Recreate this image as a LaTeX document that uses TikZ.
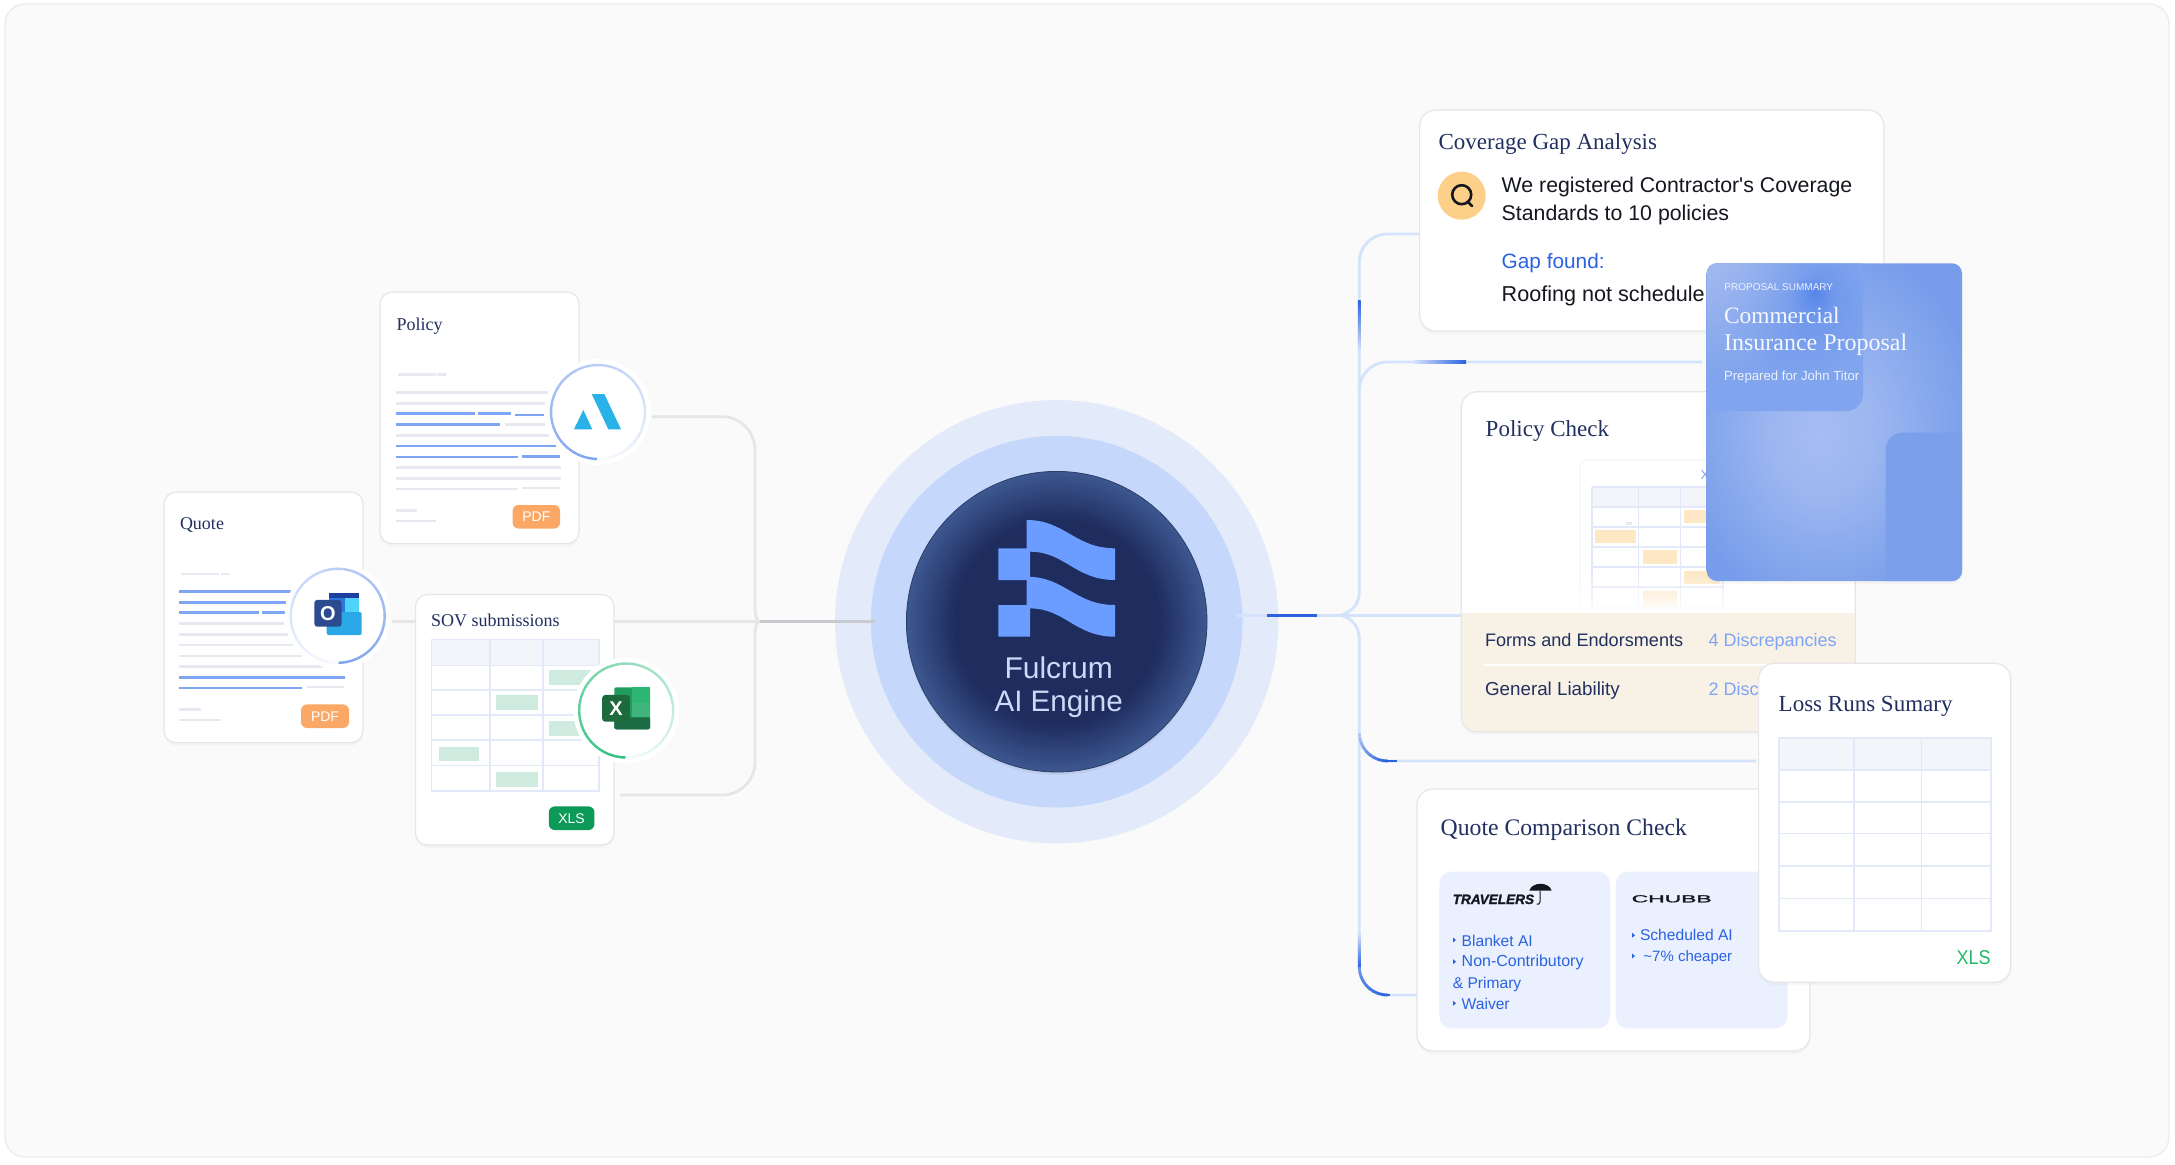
\documentclass[tikz,border=0pt]{standalone}
\usepackage{fontspec}
\usepackage{xcolor}
\setmainfont{Liberation Sans}
\newfontfamily\titlefont{Liberation Serif}
\newfontfamily\plainfont{Liberation Sans}
\newfontfamily\logofont{Liberation Sans}[FakeBold=1.4]
\usetikzlibrary{shapes.geometric, positioning, shadows, fadings}
\tikzfading[name=glowfade, inner color=transparent!0, outer color=transparent!100]
\definecolor{pagebg}{HTML}{FAFAFA}
\definecolor{cardedge}{HTML}{E6E6E8}
\definecolor{navy}{HTML}{22305F}
\definecolor{inkblack}{HTML}{14171F}
\definecolor{linkblue}{HTML}{2A62E0}
\definecolor{softblue}{HTML}{7FA3F5}
\definecolor{linepale}{HTML}{D5E2FB}
\definecolor{linedark}{HTML}{2A62E0}
\definecolor{linegrey}{HTML}{E6E6E6}
\definecolor{linehub}{HTML}{C9CAD0}
\definecolor{docgrey}{HTML}{E7E9F2}
\definecolor{docblue}{HTML}{7FA5F5}
\definecolor{gridedge}{HTML}{E3E9F8}
\definecolor{gridhead}{HTML}{F3F5FB}
\definecolor{mintcell}{HTML}{CFEADF}
\definecolor{sandcell}{HTML}{FDE7C4}
\definecolor{pdforange}{HTML}{FBA866}
\definecolor{xlsgreen}{HTML}{0D9A58}
\definecolor{xlstext}{HTML}{22B868}
\definecolor{sandpanel}{HTML}{F7F1E6}
\definecolor{iceblue}{HTML}{EAF0FD}
\definecolor{haloouter}{HTML}{E3EBFB}
\definecolor{halomid}{HTML}{C5D7FB}
\definecolor{enginedark}{HTML}{1F2C5E}
\definecolor{engineedge}{HTML}{3D5890}
\definecolor{logoblue}{HTML}{6A9DFF}
\definecolor{enginetext}{HTML}{CBDAF8}
\definecolor{qgold}{HTML}{FDD08A}
\definecolor{ringblue}{HTML}{7FA3EE}
\definecolor{ringgreen}{HTML}{2FBF7F}
\definecolor{amsblue}{HTML}{29B2E8}
\definecolor{olbar}{HTML}{1D3F9E}
\definecolor{olleft}{HTML}{2A78D8}
\definecolor{olright}{HTML}{4FD2FB}
\definecolor{olbody}{HTML}{2AA8E6}
\definecolor{olsquare}{HTML}{2C4A8F}
\definecolor{xlback}{HTML}{1F9C5E}
\definecolor{xlupper}{HTML}{2DB673}
\definecolor{xlmiddle}{HTML}{3FB47C}
\definecolor{xlbottom}{HTML}{1C6B44}
\definecolor{xlsquare}{HTML}{1D6A3C}
\definecolor{propcentre}{HTML}{A6BDF2}
\definecolor{propmid}{HTML}{9CB6F0}
\definecolor{propedge}{HTML}{769CEA}
\definecolor{panelhot}{HTML}{5585EA}
\definecolor{panelmid}{HTML}{7199EC}
\definecolor{panelfar}{HTML}{80A4ED}
\definecolor{panelpale}{HTML}{A3BAF0}
\definecolor{panelflat}{HTML}{7AA0EC}
\pgfdeclareradialshading{enginefill}{\pgfpoint{0bp}{0bp}}{color(0bp)=(enginedark); color(17bp)=(enginedark); color(25bp)=(engineedge); color(50bp)=(engineedge)}
\pgfdeclareradialshading{proposalfill}{\pgfpoint{-3bp}{-2bp}}{color(0bp)=(propcentre); color(10bp)=(propmid); color(30bp)=(propedge); color(50bp)=(propedge)}
\pgfdeclareradialshading{panelfill}{\pgfpoint{11bp}{12bp}}{color(0bp)=(panelhot); color(7bp)=(panelmid); color(22bp)=(panelfar); color(50bp)=(panelfar)}
\tikzstyle{card}      = [rectangle, rounded corners=12pt, draw=cardedge, line width=1.2pt, fill=white, anchor=north west, drop shadow={shadow xshift=0pt, shadow yshift=-3pt, opacity=.05}]
\tikzstyle{bigcard}   = [card, rounded corners=16pt]
\tikzstyle{cardtitle} = [anchor=base west, text=navy, font=\titlefont\fontsize{18}{18}\selectfont]
\tikzstyle{bigtitle}  = [anchor=base west, text=navy, font=\titlefont\fontsize{23}{23}\selectfont]
\tikzstyle{bodytext}  = [anchor=base west, text=inkblack, font=\plainfont\fontsize{21.3}{24}\selectfont]
\tikzstyle{rowtext}   = [anchor=base west, text=navy, font=\fontsize{18.8}{22}\selectfont]
\tikzstyle{rowvalue}  = [anchor=base west, text=softblue, font=\fontsize{18}{22}\selectfont]
\tikzstyle{listtext}  = [anchor=base west, text=linkblue, font=\fontsize{15.6}{18}\selectfont]
\tikzstyle{badge}     = [rectangle, rounded corners=6pt, minimum width=47pt, minimum height=23.6pt, text=white, font=\fontsize{14}{14}\selectfont]
\tikzstyle{iconhalo}  = [circle, fill=white, minimum size=106pt]
\tikzstyle{greyline}  = [linegrey, line width=2.8pt]
\tikzstyle{paleline}  = [linepale, line width=2.8pt]
\tikzstyle{darkline}  = [linedark, line width=2.8pt]
\tikzstyle{gridline}  = [gridedge, line width=1.6pt]
\tikzset{every node/.style={inner sep=0pt, outer sep=0pt}}
\newcommand{\ringgrad}[3]{%
  \foreach \i in {0,...,35} {
    \pgfmathsetmacro{\pct}{100-\i*2.7}
    \pgfmathsetmacro{\anga}{90+#3*\i*10}
    \pgfmathsetmacro{\angb}{90+#3*(\i+1.1)*10}
    \draw [#2!\pct!white, line width=2.4pt] (#1) ++(\anga:47) arc (\anga:\angb:47);
  }}
\begin{document}
\begin{tikzpicture}[x=1pt, y=-1pt]
    \useasboundingbox (0,0) rectangle (2175,1164);
    \fill [white] (0,0) rectangle (2175,1164);
    \draw [fill=pagebg, draw=cardedge!70, line width=1.4pt, rounded corners=20pt] (5,4) rectangle (2169,1157);

    \node (ringouter) [circle, fill=haloouter, minimum size=443.4pt] at (1056.7,621.7) {};
    \node (ringmid)   [circle, fill=halomid,   minimum size=371.6pt] at (1056.7,621.7) {};

    \coordinate (policyout)  at (652,416.7);
    \coordinate (outlookout) at (392,621.7);
    \coordinate (sovin)      at (416,621.7);
    \coordinate (sovout)     at (614,621.7);
    \coordinate (xlsout)     at (620,795);
    \coordinate (leftjoin)   at (760,621.7);
    \coordinate (enginein)   at (875,621.7);
    \draw [greyline] (policyout) -- (722,416.7) arc (270:360:33) -- (755,608) .. controls (755,616) and (757,621.7) .. (leftjoin);
    \draw [greyline] (xlsout) -- (722,795) arc (90:0:33) -- (755,634) .. controls (755,626) and (757,621.7) .. (leftjoin);
    \draw [greyline] (outlookout) -- (sovin);
    \draw [greyline] (sovout) -- (leftjoin);
    \draw [linehub, line width=2.8pt] (leftjoin) -- (enginein);

    \coordinate (engineout)  at (1236.7,615.3);
    \coordinate (rightjoin)  at (1340,615.3);
    \coordinate (checkin)    at (1462,615.3);
    \coordinate (coveragein) at (1420,234);
    \coordinate (proposalin) at (1702,362);
    \coordinate (lossin)     at (1756,761);
    \coordinate (comparein)  at (1419,995);
    \draw [paleline] (engineout) -- (rightjoin) -- (checkin);
    \draw [paleline] (rightjoin) .. controls (1352,612) and (1359.3,604) .. (1359.3,592) -- (1359.3,262) arc (180:270:28) -- (coveragein);
    \draw [paleline] (1359.3,390) arc (180:270:28) -- (proposalin);
    \draw [paleline] (rightjoin) .. controls (1352,618) and (1359.3,626) .. (1359.3,640) -- (1359.3,967) arc (180:90:28) -- (comparein);
    \draw [paleline] (1359.3,733) arc (180:90:28) -- (lossin);
    \draw [darkline] (1267.3,615.3) -- (1317.3,615.3);
    \draw [darkline] (1387.3,761) -- (1397,761);
    \draw [darkline] (1387.3,995) -- (1389.5,995);
    \shade [top color=linedark, bottom color=linepale] (1357.9,300) rectangle (1360.7,350);
    \shade [top color=linepale, bottom color=linedark] (1357.9,933) rectangle (1360.7,967);
    \shade [left color=linepale, right color=linedark] (1414,360.6) rectangle (1466,363.4);
    \foreach \a in {0,10,...,80} {
        \pgfmathsetmacro{\pct}{20+\a}
        \draw [linedark!\pct!linepale, line width=2.8pt] (1387.3,733) ++(180-\a:28) arc (180-\a:170-\a-1:28);
        \pgfmathsetmacro{\pct}{60+\a/2}
        \draw [linedark!\pct!linepale, line width=2.8pt] (1387.3,967) ++(180-\a:28) arc (180-\a:170-\a-1:28);
    }

    % left documents
    \node (quote)  [card, minimum width=199pt, minimum height=250.6pt] at (164,492) {};
    \node (policy) [card, minimum width=199pt, minimum height=251.6pt] at (380,292) {};
    \node (sov)    [card, minimum width=198.5pt, minimum height=250.5pt] at (415.5,594.5) {};
    \node (quotetitle)  [cardtitle] at (180,529.5) {Quote};
    \node (policytitle) [cardtitle] at (396.5,330.5) {Policy};
    \node (sovtitle)    [cardtitle] at (431,626) {SOV submissions};

    \foreach \xa/\xb/\yy in {181.3/218.5/573.9, 221/230/573.9, 179.3/283.6/623.6, 179.3/288/634.3, 179.3/293.2/645, 179.3/301.8/655.8, 179.3/322.5/666.5, 306.7/343.9/687.1, 179.3/200.6/709.3, 179.3/220.6/720,
                              397.6/435.5/374.5, 437.2/445.8/374.5, 395.5/548/392.5, 395.5/544.6/403.6, 505/545/424.6, 395.5/549/435.3, 395.5/560.5/467.5, 395.5/560.5/478.2, 395.5/517.8/488.9, 522/560/488, 395.5/416.5/510.3, 395.5/436/521}
        \draw [docgrey, line width=2.6pt] (\xa,\yy) -- (\xb,\yy);
    \foreach \xa/\xb/\yy in {179.3/290.5/591.5, 179.3/286.3/602.2, 179.3/258.8/612.5, 262.2/284.6/612.5, 179.3/344.5/677.2, 179.3/301.8/687.9,
                              395.5/474.7/413.5, 478.2/510.9/413.5, 515.3/543.6/415, 395.5/499.5/424.6, 395.5/555.6/446, 395.5/517.8/456.8, 522.2/560/456.4}
        \draw [docblue, line width=2.6pt] (\xa,\yy) -- (\xb,\yy);
    \node (quotebadge)  [badge, fill=pdforange, minimum width=48pt] at (325,716.2) {PDF};
    \node (policybadge) [badge, fill=pdforange, minimum width=47.5pt] at (536.3,516.8) {PDF};
    \node (sovbadge)    [badge, fill=xlsgreen,  minimum width=45.7pt] at (571.6,818.2) {XLS};

    \fill [gridhead] (431.3,639.3) rectangle (598.7,665.3);
    \foreach \xa/\xb/\ya/\yb in {549/591/670.3/685.2, 496/537.7/695/710, 549/591/721/736, 439/479/746.5/761, 496/537.7/772/786.6}
        \fill [mintcell] (\xa,\ya) rectangle (\xb,\yb);
    \draw [gridline] (431.3,639.3) rectangle (598.7,791.2);
    \foreach \yy in {665.3,690.2,714.7,740,765.6}
        \draw [gridline] (431.3,\yy) -- (598.7,\yy);
    \foreach \xx in {490.2,543.2}
        \draw [gridline] (\xx,639.3) -- (\xx,791.2);

    % icon badges
    \node (policyicon)  [iconhalo] at (598,412) {};
    \node (outlookicon) [iconhalo] at (337.7,615.8) {};
    \node (excelicon)   [iconhalo] at (626.2,710.5) {};
    \ringgrad{policyicon}{ringblue}{1}
    \ringgrad{outlookicon}{ringblue}{-1}
    \ringgrad{excelicon}{ringgreen}{1}

    \fill [amsblue] (574,429.3) -- (592.3,429.3) -- (583.3,410) -- cycle;
    \fill [amsblue] (591.7,394) -- (604.3,394) -- (621,429.3) -- (608.3,429.3) -- cycle;

    \fill [olbar] (329.3,593.3) rectangle (359,598.3);
    \fill [olleft] (329.3,598.3) rectangle (345,615);
    \fill [olright] (345,598.3) rectangle (359,615);
    \fill [olbody, rounded corners=2pt] (326.7,612) rectangle (361.7,635);
    \node (outlookmark) [rectangle, rounded corners=3pt, fill=olsquare, minimum width=27.4pt, minimum height=26.7pt, text=white, font=\bfseries\fontsize{20}{20}\selectfont] at (328,613.3) {O};

    \fill [xlback, rounded corners=2pt] (614.3,687.3) rectangle (650,729.3);
    \fill [xlupper] (632.3,687.3) rectangle (650,703.3);
    \fill [xlmiddle] (632.3,703.3) rectangle (650,717.3);
    \fill [xlbottom, rounded corners=2pt] (614.3,717.3) rectangle (650,729.3);
    \node (excelmark) [rectangle, rounded corners=3pt, fill=xlsquare, minimum width=27.6pt, minimum height=26.7pt, text=white, font=\bfseries\fontsize{20}{20}\selectfont] at (616,708.3) {X};

    % output cards
    \node (coverage) [bigcard, minimum width=464.4pt, minimum height=221pt] at (1419.6,110) {};
    \node (coveragetitle) [bigtitle] at (1438.6,149.3) {Coverage Gap Analysis};
    \node (searchdot) [circle, fill=qgold, minimum size=48pt] at (1461.7,195.7) {};
    \draw [inkblack, line width=2.6pt] (1461.7,194.7) circle (9.5);
    \draw [inkblack, line width=2.8pt, line cap=round] (1467.5,201.5) -- (1472,206);
    \node (wetext)  [bodytext] at (1501.7,192.7) {We registered Contractor's Coverage};
    \node (stdtext) [bodytext] at (1501.7,220) {Standards to 10 policies};
    \node (gaptext) [bodytext, text=linkblue, font=\fontsize{20.8}{24}\selectfont] at (1501.7,268) {Gap found:};
    \node (rooftext)[bodytext, font=\fontsize{21.6}{24}\selectfont] at (1501.7,301) {Roofing not schedule};

    \node (check) [bigcard, minimum width=394pt, minimum height=340pt] at (1461.3,391.7) {};
    \node (checktitle) [bigtitle] at (1485.7,436.7) {Policy Check};
    \draw [gridhead, line width=1.4pt, rounded corners=8pt] (1723,612) -- (1723,460) -- (1580,460) -- (1580,612);
    \fill [gridhead] (1592,486.7) rectangle (1723,507);
    \foreach \xa/\xb/\ya/\yb in {1595/1636/530/543, 1643/1677/550/564, 1683.5/1720/510/523, 1683.5/1720/571/584, 1643/1677/591/607}
        \fill [sandcell] (\xa,\ya) rectangle (\xb,\yb);
    \foreach \yy in {486.7,507,527,546.7,567,587,607.7}
        \draw [gridline] (1592,\yy) -- (1723,\yy);
    \foreach \xx in {1592,1638.5,1680.6,1723}
        \draw [gridline] (\xx,486.7) -- (\xx,612);
    \fill [docgrey] (1626,521.5) rectangle (1632,524.5);
    \fill [white, path fading=north] (1574,572) rectangle (1735,614);
    \node (tablemark) [text=softblue, font=\fontsize{13}{13}\selectfont] at (1705,475) {X};
    \fill [sandpanel] (1462,613) -- (1854.7,613) [rounded corners=15pt] -- (1854.7,731) -- (1462,731) [sharp corners] -- cycle;
    \draw [white, line width=1.4pt] (1484,665) -- (1855,665);
    \node (formsrow)  [rowtext, font=\fontsize{18.1}{22}\selectfont] at (1485,646) {Forms and Endorsments};
    \node (formsval)  [rowvalue] at (1708.6,646) {4 Discrepancies};
    \node (glrow)     [rowtext]  at (1485,695.7) {General Liability};
    \node (glval)     [rowvalue] at (1708.6,695.7) {2 Disc};

    \node (proposal) [card, rounded corners=10pt, draw=none, minimum width=255.3pt, minimum height=317.7pt, shade, shading=proposalfill] at (1706.7,263.3) {};
    \begin{scope}
        \clip [rounded corners=10pt] (1706.7,263.3) rectangle (1962,581);
        \shade [shading=panelfill, rounded corners=17pt] (1690,250) rectangle (1863,411);
        \begin{scope}
            \clip [rounded corners=17pt] (1690,250) rectangle (1863,411);
            \fill [panelpale, path fading=glowfade] (1707,263) circle (115);
        \end{scope}
        \fill [panelflat, rounded corners=17pt] (1885.5,432.7) rectangle (1990,610);
    \end{scope}
    \node (proposaltag)   [anchor=base west, text=white!85!ringblue, font=\fontsize{10}{10}\selectfont] at (1724.4,290) {PROPOSAL SUMMARY};
    \node (proposalname)  [anchor=base west, text=white!92!ringblue, font=\titlefont\fontsize{23.4}{24}\selectfont] at (1724,323) {Commercial};
    \node (proposalname2) [anchor=base west, text=white!92!ringblue, font=\titlefont\fontsize{24}{24}\selectfont] at (1724,350.7) {Insurance Proposal};
    \node (proposalfor)   [anchor=base west, text=white!85!ringblue, font=\fontsize{13.2}{14}\selectfont] at (1724,380) {Prepared for John Titor};

    \node (compare) [bigcard, minimum width=393pt, minimum height=262pt] at (1417,789) {};
    \node (comparetitle) [bigtitle, font=\titlefont\fontsize{23.7}{24}\selectfont] at (1440.7,835) {Quote Comparison Check};
    \node (travbox)  [rectangle, rounded corners=12pt, fill=iceblue, anchor=north west, minimum width=170.6pt, minimum height=156.6pt] at (1439.4,871.7) {};
    \node (chubbbox) [rectangle, rounded corners=12pt, fill=iceblue, anchor=north west, minimum width=171.9pt, minimum height=156.6pt] at (1615.7,871.7) {};
    \node (travlogo) [anchor=base west, text=inkblack, font=\logofont\bfseries\itshape\fontsize{13.6}{14}\selectfont] at (1452.7,904) {TRAVELERS};
    \fill [inkblack] (1529.3,890.7) .. controls (1532,881.5) and (1549,881.5) .. (1551.7,890.7) -- cycle;
    \draw [inkblack, line width=1pt] (1540,890.7) -- (1540,902) .. controls (1540,904.5) and (1537.5,904.5) .. (1536.7,904);
    \node (chubblogo) [anchor=base west, text=inkblack, font=\logofont\fontsize{10.2}{10}\selectfont] at (1631.7,902.3) {\scalebox{2.24}[1]{CHUBB}};
    \node (listone)   [listtext] at (1461.7,946) {Blanket AI};
    \node (listtwo)   [listtext, font=\fontsize{16}{18}\selectfont] at (1461.7,966.7) {Non-Contributory};
    \node (listthree) [listtext] at (1452.8,988) {\& Primary};
    \node (listfour)  [listtext] at (1461.7,1009) {Waiver};
    \node (listfive)  [listtext] at (1640,940.7) {Scheduled AI};
    \node (listsix)   [listtext, font=\fontsize{15}{18}\selectfont] at (1643.4,961.7) {\textasciitilde7\% cheaper};
    \foreach \xx/\yy in {1453/940, 1453/961.7, 1453/1003.3, 1632/935.3, 1632/956}
        \fill [linkblue] (\xx,\yy-2.5) -- (\xx+3,\yy) -- (\xx,\yy+2.5) -- cycle;

    \node (loss) [bigcard, minimum width=252.2pt, minimum height=319pt] at (1758.6,663.3) {};
    \node (losstitle) [bigtitle] at (1778.7,711.7) {Loss Runs Sumary};
    \fill [gridhead] (1778.7,737.7) rectangle (1990.7,770);
    \draw [gridline] (1778.7,737.7) rectangle (1990.7,930.7);
    \foreach \yy in {770,801.7,833.3,865.7,898.3}
        \draw [gridline] (1778.7,\yy) -- (1990.7,\yy);
    \foreach \xx in {1853.7,1921.5}
        \draw [gridline] (\xx,737.7) -- (\xx,930.7);
    \node (losstag) [anchor=base east, text=xlstext, font=\fontsize{20}{20}\selectfont] at (1990.7,964) {\scalebox{.9}[1]{XLS}};

    % engine
    \node (engine) [circle, minimum size=300.6pt, draw=engineedge!70!black, line width=.8pt, shade, shading=enginefill, drop shadow={shadow xshift=0pt, shadow yshift=-3pt, opacity=.12}] at (1056.7,621.7) {};
    \foreach \dy in {0,56.7} {
        \fill [logoblue, shift={(0,\dy)}] (1026.7,520) .. controls (1065,520) and (1075,548.3) .. (1115,548.3) -- (1115,580) .. controls (1075,580) and (1065,551.7) .. (1030,551.7) -- (1030,580) -- (998.3,580) -- (998.3,548.3) -- (1026.7,548.3) -- cycle;
    }
    \node (enginename)  [anchor=base, text=enginetext, font=\fontsize{30}{30}\selectfont] at (1058.7,678) {Fulcrum};
    \node (enginename2) [anchor=base, text=enginetext, font=\fontsize{29.6}{30}\selectfont] at (1058.7,711.7) {AI Engine};
\end{tikzpicture}
\end{document}
